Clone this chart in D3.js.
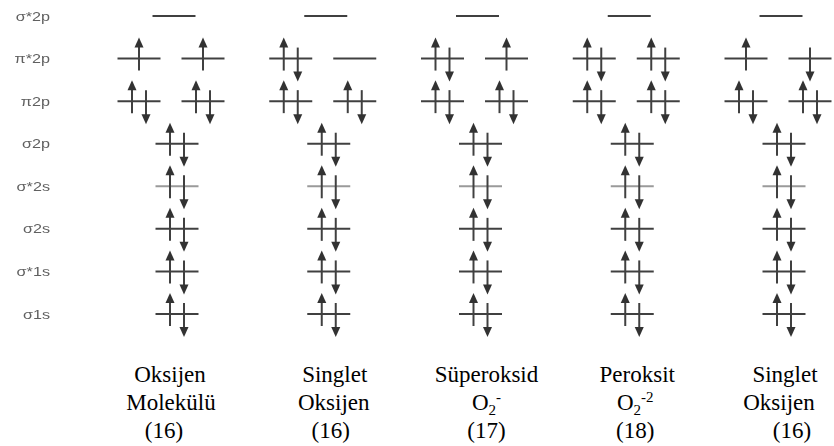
<!DOCTYPE html>
<html>
<head>
<meta charset="utf-8">
<script src="https://cdn.jsdelivr.net/npm/d3@7/dist/d3.min.js"></script>
<style>
  html, body { margin: 0; padding: 0; background: #fff; }
  svg { display: block; }
  .caption { font-family: "Liberation Serif", "Times New Roman", serif; }
  .row-label { font-family: "Liberation Sans", Arial, sans-serif; }
</style>
</head>
<body>
<svg id="chart" width="834" height="446"></svg>
<script>
// Molecular orbital levels, top (highest energy) to bottom
const levels = ["σ*2p", "π*2p", "π2p", "σ2p", "σ*2s", "σ2s", "σ*1s", "σ1s"];

// Species shown in each column
const species = ["O2", "1O2", "O2-", "O2-2", "1O2*"];
const nameLine1 = ["Oksijen", "Singlet", "Süperoksid", "Peroksit", "Singlet"];
const nameLine2 = [
  [["Molekülü", ""]],
  [["Oksijen", ""]],
  [["O", ""], ["2", "sub"], ["-", "sup"]],
  [["O", ""], ["2", "sub"], ["-2", "sup"]],
  [["Oksijen", ""]]
];
const electronCounts = [16, 16, 17, 18, 16];

// Electron occupancy per species ("u" = spin up, "d" = spin down, "" = empty)
const sigmaStar2p = [[""], [""], [""], [""], [""]];
const piStar2p    = [["u", "u"], ["ud", ""], ["ud", "u"], ["ud", "ud"], ["u", "d"]];
const pi2p        = [["ud", "ud"], ["ud", "ud"], ["ud", "ud"], ["ud", "ud"], ["ud", "ud"]];
const sigma2p     = [["ud"], ["ud"], ["ud"], ["ud"], ["ud"]];
const sigmaStar2s = [["ud"], ["ud"], ["ud"], ["ud"], ["ud"]];
const sigma2s     = [["ud"], ["ud"], ["ud"], ["ud"], ["ud"]];
const sigmaStar1s = [["ud"], ["ud"], ["ud"], ["ud"], ["ud"]];
const sigma1s     = [["ud"], ["ud"], ["ud"], ["ud"], ["ud"]];

const occupancyByLevel = [sigmaStar2p, piStar2p, pi2p, sigma2p, sigmaStar2s, sigma2s, sigmaStar1s, sigma1s];

// ---- layout ----
const svg = d3.select("#chart");

const x = d3.scalePoint().domain(species).range([177, 784]);
const y = d3.scalePoint().domain(levels).range([16, 314]);

const lineHalf = 21.5;     // half width of an orbital line
const spinDx = 7;          // spin arrow offset from orbital centre
const lineColor = "#404040";

// Horizontal offsets of orbitals relative to the column centre
function orbitalOffsets(level, n) {
  if (n === 2) return [-38, 26];
  if (level === "σ*2p") return [-3];
  return [0];
}

const defs = svg.append("defs");
defs.append("filter").attr("id", "soft")
  .attr("x", "-10%").attr("y", "-10%").attr("width", "120%").attr("height", "120%")
  .append("feGaussianBlur").attr("stdDeviation", 0.55);

const diagram = svg.append("g").attr("filter", "url(#soft)");

// Flat table of orbitals built from the occupancy arrays
const orbitals = [];
levels.forEach((lev, li) => {
  species.forEach((sp, si) => {
    const occ = occupancyByLevel[li][si];
    const offs = orbitalOffsets(lev, occ.length);
    occ.forEach((e, oi) => {
      orbitals.push({ level: lev, species: sp, cx: x(sp) + offs[oi], cy: y(lev), electrons: e });
    });
  });
});

// Row labels
diagram.append("g").selectAll("text")
  .data(levels)
  .join("text")
  .attr("class", "row-label")
  .attr("transform", d => `translate(50,${y(d) + 4.5}) scale(1.35,1)`)
  .attr("text-anchor", "end")
  .attr("font-size", 12)
  .attr("fill", "#606060")
  .text(d => d);

// Orbital lines
diagram.append("g").selectAll("line")
  .data(orbitals)
  .join("line")
  .attr("x1", d => d.cx - lineHalf)
  .attr("x2", d => d.cx + lineHalf)
  .attr("y1", d => d.cy)
  .attr("y2", d => d.cy)
  .attr("stroke", d => d.level === "σ*2s" ? "#9a9a9a" : lineColor)
  .attr("stroke-width", 2);

// Spin arrows
const arrows = [];
orbitals.forEach(o => {
  const e = o.electrons;
  if (e === "ud") {
    arrows.push({ x: o.cx - spinDx, y: o.cy, dir: "u" });
    arrows.push({ x: o.cx + spinDx, y: o.cy, dir: "d" });
  } else if (e === "u" || e === "d") {
    arrows.push({ x: o.cx, y: o.cy, dir: e });
  }
});

const arrowG = diagram.append("g");
arrowG.selectAll("line")
  .data(arrows)
  .join("line")
  .attr("x1", d => d.x).attr("x2", d => d.x)
  .attr("y1", d => d.dir === "u" ? d.y + 12 : d.y - 11)
  .attr("y2", d => d.dir === "u" ? d.y - 13 : d.y + 15)
  .attr("stroke", lineColor)
  .attr("stroke-width", 2);

arrowG.selectAll("path")
  .data(arrows)
  .join("path")
  .attr("d", d => {
    if (d.dir === "u") {
      const t = d.y - 21;
      return `M${d.x},${t} L${d.x - 4.5},${t + 10} L${d.x + 4.5},${t + 10} Z`;
    }
    const t = d.y + 23;
    return `M${d.x},${t} L${d.x - 4.5},${t - 10} L${d.x + 4.5},${t - 10} Z`;
  })
  .attr("fill", "#333");

// Species captions
const caption = svg.append("g")
  .attr("class", "caption")
  .attr("font-size", 23)
  .attr("fill", "#000")
  .attr("text-anchor", "middle");

const captionDx = [[-7, -6, -13], [6, 5, 2], [6, 6, 6], [5, 3, 3], [1, -5, 8]];

species.forEach((sp, i) => {
  const cx = x(sp);
  caption.append("text").attr("x", cx + captionDx[i][0]).attr("y", 382).text(nameLine1[i]);
  const t2 = caption.append("text").attr("x", cx + captionDx[i][1]).attr("y", 410);
  nameLine2[i].forEach(([s, kind]) => {
    const ts = t2.append("tspan").text(s);
    if (kind === "sub") ts.attr("font-size", 15).attr("dy", 5);
    if (kind === "sup") ts.attr("font-size", 15).attr("dy", -13);
  });
  caption.append("text").attr("x", cx + captionDx[i][2]).attr("y", 438).text(`(${electronCounts[i]})`);
});
</script>
</body>
</html>
